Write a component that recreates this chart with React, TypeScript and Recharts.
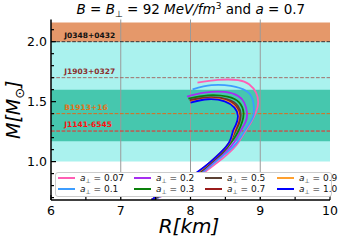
import React from "react";
import {
  Legend,
  Line,
  LineChart,
  ReferenceArea,
  ReferenceLine,
  XAxis,
  YAxis,
} from "recharts";

// mass-radius curves, one pair of arrays per a_perp
const rA007 = [8.10, 8.39, 8.68, 8.84, 8.94, 8.97, 8.94, 8.87, 8.77, 8.66, 8.52, 8.38, 8.19, 7.97, 7.72, 7.47];
const mA007 = [1.658, 1.681, 1.680, 1.645, 1.575, 1.492, 1.414, 1.331, 1.239, 1.139, 1.056, 0.990, 0.906, 0.823, 0.748, 0.681];
const rA01 = [8.03, 8.30, 8.58, 8.80, 8.89, 8.91, 8.89, 8.81, 8.73, 8.61, 8.46, 8.35, 8.17, 7.95, 7.71, 7.46];
const mA01 = [1.603, 1.637, 1.631, 1.589, 1.520, 1.437, 1.364, 1.289, 1.214, 1.122, 1.047, 0.995, 0.910, 0.826, 0.750, 0.681];
const rA02 = [7.95, 8.20, 8.49, 8.68, 8.77, 8.81, 8.79, 8.71, 8.63, 8.50, 8.33, 8.15, 7.93, 7.69, 7.45];
const mA02 = [1.542, 1.575, 1.581, 1.548, 1.492, 1.408, 1.331, 1.248, 1.164, 1.081, 0.998, 0.912, 0.828, 0.752, 0.681];
const rA03 = [7.97, 8.25, 8.53, 8.70, 8.76, 8.74, 8.68, 8.59, 8.47, 8.31, 8.14, 7.92, 7.68, 7.45];
const mA03 = [1.525, 1.553, 1.542, 1.492, 1.408, 1.331, 1.248, 1.164, 1.081, 0.998, 0.914, 0.829, 0.753, 0.681];
const rA05 = [7.99, 8.25, 8.53, 8.68, 8.72, 8.70, 8.64, 8.57, 8.46, 8.30, 8.13, 7.91, 7.67, 7.44];
const mA05 = [1.514, 1.536, 1.520, 1.464, 1.395, 1.323, 1.248, 1.164, 1.081, 0.998, 0.915, 0.830, 0.754, 0.681];
const rA07 = [7.99, 8.25, 8.51, 8.66, 8.70, 8.68, 8.63, 8.56, 8.45, 8.29, 8.12, 7.90, 7.66, 7.44];
const mA07 = [1.506, 1.530, 1.513, 1.458, 1.390, 1.318, 1.248, 1.164, 1.081, 0.998, 0.916, 0.830, 0.755, 0.681];
const rA09 = [8.00, 8.25, 8.50, 8.64, 8.69, 8.66, 8.62, 8.56, 8.44, 8.29, 8.12, 7.89, 7.65, 7.44];
const mA09 = [1.498, 1.524, 1.507, 1.453, 1.385, 1.310, 1.252, 1.164, 1.081, 1.000, 0.917, 0.831, 0.756, 0.681];
const rA10 = [8.00, 8.25, 8.49, 8.63, 8.68, 8.65, 8.61, 8.56, 8.44, 8.29, 8.11, 7.89, 7.64, 7.44];
const mA10 = [1.492, 1.520, 1.503, 1.450, 1.381, 1.306, 1.256, 1.167, 1.081, 1.000, 0.917, 0.831, 0.756, 0.681];

const aLabels = ["0.07", "0.1", "0.2", "0.3", "0.5", "0.7", "0.9", "1.0"];
const aColors = ["#ff5eb4", "#3d9dff", "#a62ef0", "#0a800a", "#5c4033", "#9b1b1b", "#ffa02e", "#0000ff"];
const aRadii = [rA007, rA01, rA02, rA03, rA05, rA07, rA09, rA10];
const aMasses = [mA007, mA01, mA02, mA03, mA05, mA07, mA09, mA10];

// pulsar mass constraints
const pulsarNames = ["J0348+0432", "J1903+0327", "B1913+16", "J1141-6545"];
const pulsarMass = [2.0, 1.7, 1.4, 1.255];
const pulsarLine = ["#333333", "#a0706a", "#e06a1a", "#ff2020"];
const pulsarText = ["#111111", "#8b2f2f", "#e0731a", "#ff1010"];

// shaded bands
const bandLow = [1.0, 1.17, 2.0];
const bandHigh = [2.0, 1.6, 2.16];
const bandColors = ["#aaf2ee", "#46c7ae", "#e5986a"];

const massTicks = [0.7, 0.8, 0.9, 1.0, 1.1, 1.2, 1.3, 1.4, 1.5, 1.6, 1.7, 1.8, 1.9, 2.0, 2.1];
const massLabels = [1.0, 1.5, 2.0];
const radiusTicks = [6, 6.5, 7, 7.5, 8, 8.5, 9, 9.5, 10];
const radiusLabels = [6, 7, 8, 9, 10];
const gridRadii = [7, 8, 9];

const series = aLabels.map((label, i) => ({
  label,
  color: aColors[i],
  data: aRadii[i].map((r, j) => ({ r, m: aMasses[i][j] })),
}));

const FONT = "DejaVu Sans";

function MassTick(props: any) {
  const { x, y, payload } = props;
  const major = massLabels.includes(payload.value);
  const ax = x + 4;
  return (
    <g>
      <line x1={ax} x2={ax + (major ? 5 : 3)} y1={y} y2={y} stroke="#000" strokeWidth={1.2} />
      {major && (
        <text x={x} y={y} dy="0.36em" textAnchor="end" fontSize={12.5} fontFamily={FONT} fill="#000">
          {payload.value.toFixed(1)}
        </text>
      )}
    </g>
  );
}

function RadiusTick(props: any) {
  const { x, y, payload } = props;
  const major = radiusLabels.includes(payload.value);
  const ay = y - 5;
  return (
    <g>
      <line x1={x} x2={x} y1={ay} y2={ay - (major ? 5 : 3.5)} stroke="#000" strokeWidth={1.2} />
      {major && (
        <text x={x} y={y} dy="0.76em" textAnchor="middle" fontSize={12.5} fontFamily={FONT} fill="#000">
          {payload.value}
        </text>
      )}
    </g>
  );
}

function LegendBox() {
  const cols = [2, 78, 149, 221];
  return (
    <div
      style={{
        width: 275,
        height: 23,
        background: "#fff",
        border: "1px solid #cccccc",
        borderRadius: 3,
        position: "relative",
        fontFamily: FONT,
        fontSize: 9,
        color: "#111",
      }}
    >
      {series.map((s, i) => {
        const left = cols[Math.floor(i / 2)];
        const mid = i % 2 === 0 ? 5.8 : 16.8;
        return (
          <React.Fragment key={s.label}>
            <div style={{ position: "absolute", left, top: mid - 1, width: 17, height: 2, background: s.color }} />
            <div style={{ position: "absolute", left: left + 22, top: mid - 6, lineHeight: "12px", whiteSpace: "nowrap" }}>
              <i>a</i>
              <span style={{ fontSize: 6, position: "relative", top: 2 }}>⊥</span> = {s.label}
            </div>
          </React.Fragment>
        );
      })}
    </div>
  );
}

export default function App() {
  return (
    <div style={{ position: "absolute", left: 0, top: 0, width: 341, height: 243, background: "#fff" }}>
      <div
        style={{
          position: "absolute",
          left: 40,
          width: 301.6,
          top: 0,
          lineHeight: "18px",
          textAlign: "center",
          fontFamily: FONT,
          fontSize: 13.5,
          whiteSpace: "nowrap",
        }}
      >
        <i>B</i> = <i>B</i>
        <span style={{ fontSize: 9, position: "relative", top: 3 }}>⊥</span> = 92 <i>MeV/fm</i>
        <span style={{ fontSize: 9, position: "relative", top: -5 }}>3</span> and <i>a</i> = 0.7
      </div>
      <LineChart width={341} height={243} margin={{ top: 19.5, right: 11, bottom: 18, left: 0 }}>
        {bandLow.map((lo, i) => (
          <ReferenceArea key={"band" + i} y1={lo} y2={bandHigh[i]} fill={bandColors[i]} fillOpacity={1} stroke="none" />
        ))}
        {gridRadii.map((r) => (
          <ReferenceLine key={"grid" + r} x={r} stroke="#9a9a9a" strokeWidth={1} />
        ))}
        {pulsarNames.map((name, i) => (
          <ReferenceLine
            key={name}
            y={pulsarMass[i]}
            stroke={pulsarLine[i]}
            strokeWidth={1}
            strokeDasharray="3.7 1.6"
            label={(p: any) => (
              <text
                x={p.viewBox.x + 13.3}
                y={p.viewBox.y - 4}
                fontSize={7.5}
                fontWeight="bold"
                fontFamily={FONT}
                fill={pulsarText[i]}
              >
                {name}
              </text>
            )}
          />
        ))}
        <XAxis
          dataKey="r"
          type="number"
          domain={[6, 10]}
          allowDataOverflow
          ticks={radiusTicks}
          interval={0}
          height={25}
          tickSize={0}
          tickMargin={5}
          tickLine={false}
          tick={<RadiusTick />}
          axisLine={{ stroke: "#000", strokeWidth: 1.5 }}
          label={(p: any) => (
            <text
              x={p.viewBox.x + p.viewBox.width / 2 - 1.5}
              y={233}
              textAnchor="middle"
              fontSize={20}
              fontStyle="italic"
              fontFamily={FONT}
              fill="#000"
            >
              R[km]
            </text>
          )}
        />
        <XAxis
          xAxisId="top"
          orientation="top"
          type="number"
          domain={[6, 10]}
          allowDataOverflow
          height={0}
          tick={false}
          tickLine={false}
          axisLine={{ stroke: "#000", strokeWidth: 1.5 }}
        />
        <YAxis
          type="number"
          domain={[0.68, 2.185]}
          allowDataOverflow
          ticks={massTicks}
          interval={0}
          width={51}
          tickSize={0}
          tickMargin={4}
          tickLine={false}
          tick={<MassTick />}
          axisLine={{ stroke: "#000", strokeWidth: 1.5 }}
          label={(p: any) => {
            const cx = p.viewBox.x + 13.5;
            const cy = p.viewBox.y + p.viewBox.height / 2;
            return (
              <text
                x={cx}
                y={cy}
                dy="0.35em"
                transform={`rotate(-90 ${cx} ${cy})`}
                textAnchor="middle"
                fontSize={19}
                fontStyle="italic"
                fontFamily={FONT}
                fill="#000"
              >
                M[M
                <tspan fontSize={13} dy={4}>⊙</tspan>
                <tspan dy={-4}>]</tspan>
              </text>
            );
          }}
        />
        <YAxis
          yAxisId="right"
          orientation="right"
          type="number"
          domain={[0.68, 2.185]}
          allowDataOverflow
          width={0}
          tick={false}
          tickLine={false}
          axisLine={{ stroke: "#000", strokeWidth: 1.5 }}
        />
        {series.map((s) => (
          <Line
            key={s.label}
            data={s.data}
            dataKey="m"
            name={s.label}
            type="natural"
            stroke={s.color}
            strokeWidth={1.8}
            dot={false}
            isAnimationActive={false}
          />
        ))}
        <Legend
          layout="vertical"
          align="center"
          verticalAlign="middle"
          content={() => <LegendBox />}
          wrapperStyle={{ left: 55, top: 171.5, width: 277, height: 25 }}
        />
      </LineChart>
    </div>
  );
}
